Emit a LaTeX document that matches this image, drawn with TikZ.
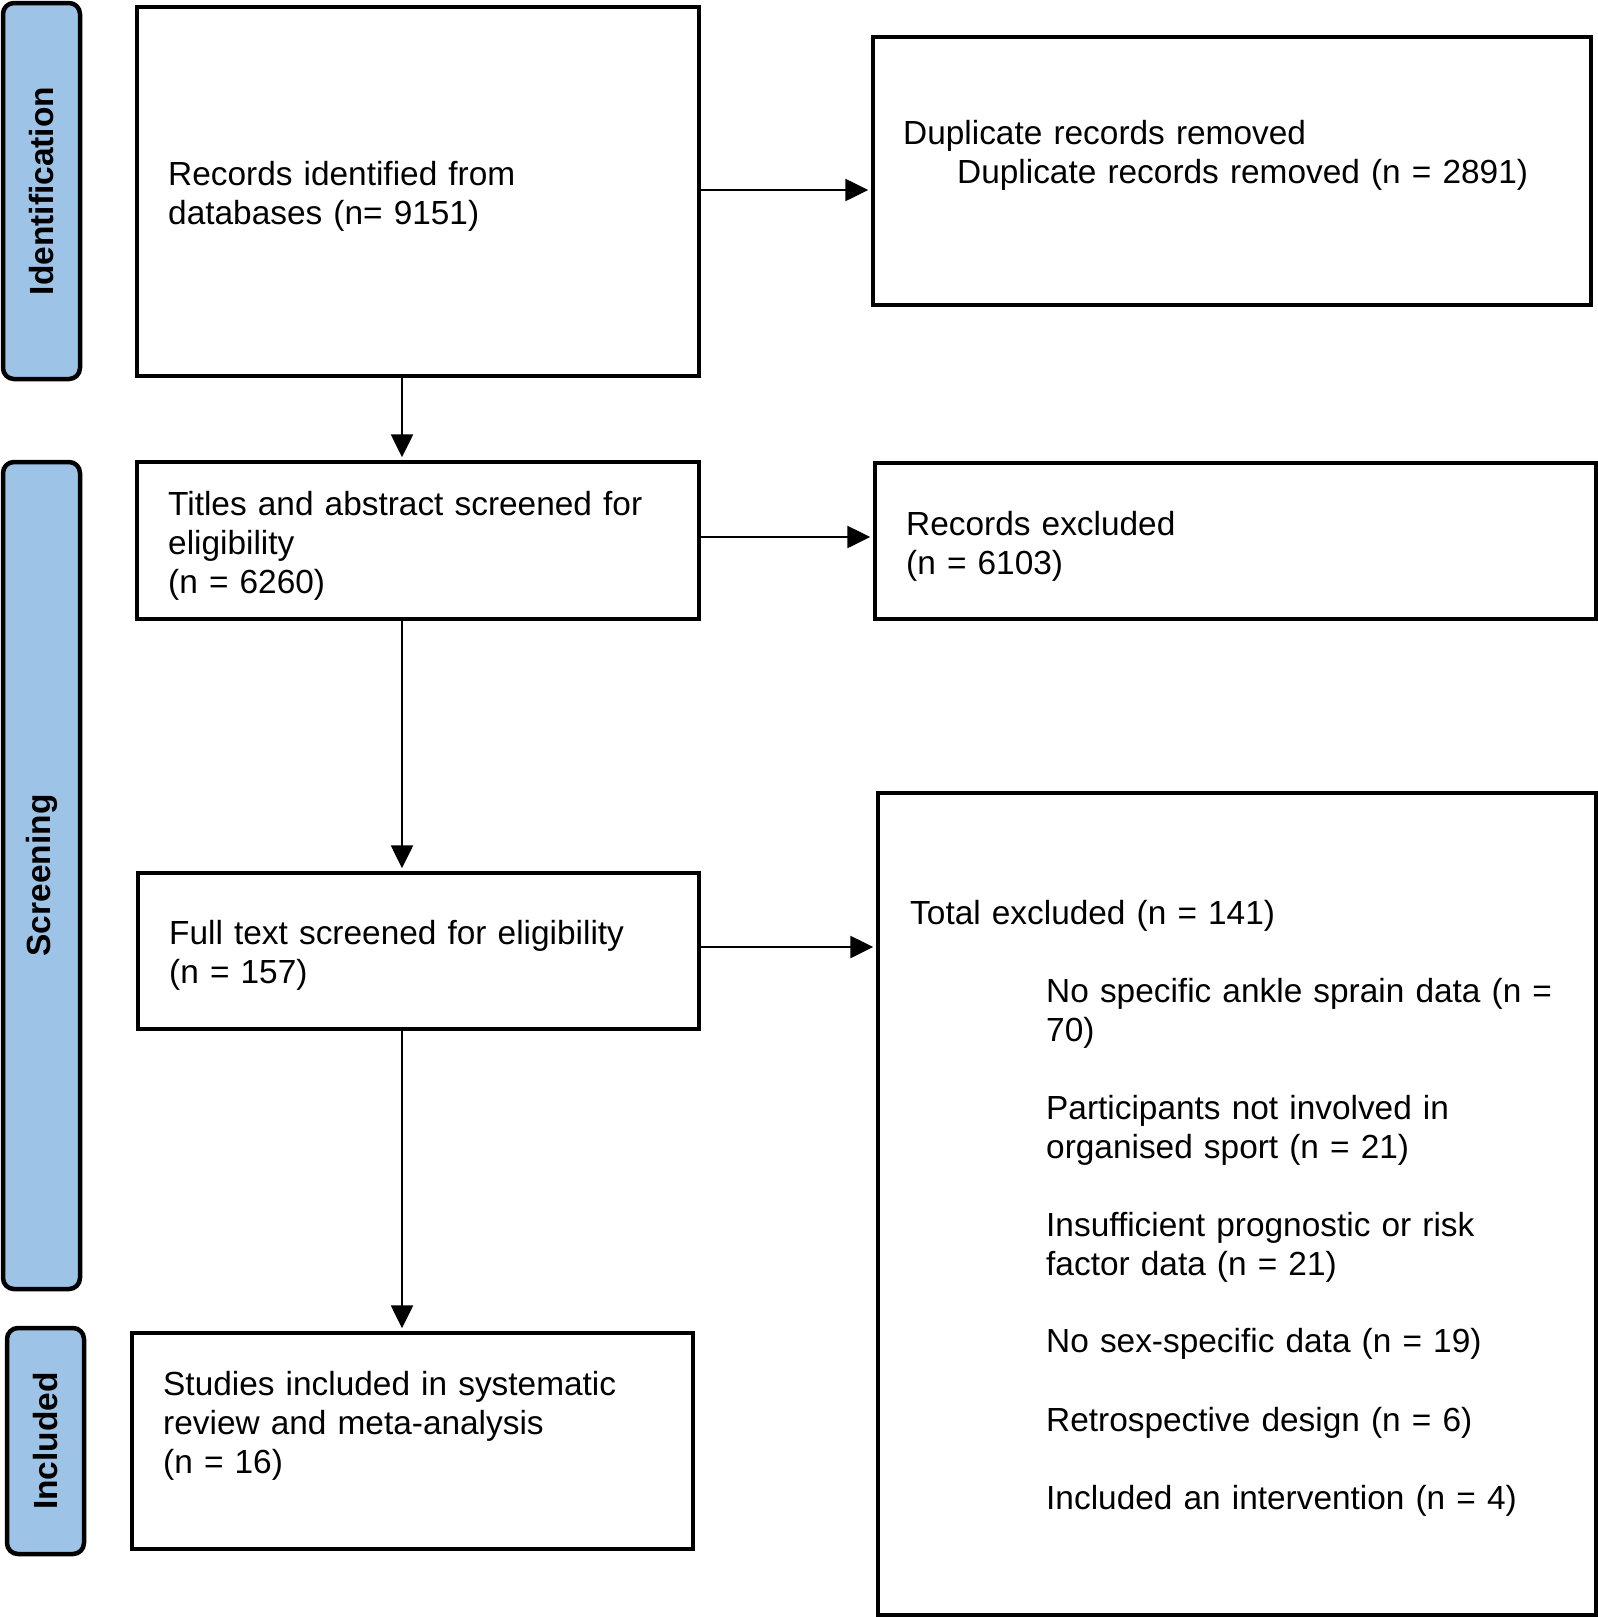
\documentclass[tikz,border=0pt]{standalone}
\usepackage{fontspec}
\setmainfont{Liberation Sans}
\usetikzlibrary{arrows.meta,calc}
\definecolor{pillblue}{RGB}{157,195,230}
\begin{document}
\begin{tikzpicture}[x=1pt,y=-1pt,
  box/.style={draw=black, line width=3.5pt, rectangle, inner sep=0pt, fill=white},
  pill/.style={draw=black, line width=4.5pt, fill=pillblue, rounded corners=11pt, rectangle, inner sep=0pt},
  pilltext/.style={rotate=90, font=\fontsize{33.5}{39}\selectfont\bfseries, inner sep=0pt},
  txt/.style={anchor=base west, inner sep=0pt, align=left, text width=720pt, font=\fontsize{33.4}{39}\selectfont},
  arr/.style={line width=2.6pt, -{Triangle[length=23pt,width=22pt]}, shorten >=3pt}
]
\useasboundingbox (0,0) rectangle (1598,1617);
% pills
\node[pill, minimum width=77pt, minimum height=376pt] (pid) at (41.5,191) {};
\node[pill, minimum width=77pt, minimum height=827pt] (psc) at (41.5,875.5) {};
\node[pill, minimum width=77pt, minimum height=226pt] (pin) at (45.5,1441) {};
\node[pilltext] (pidt) at (pid.center) {Identification};
\node[pilltext] (psct) at (psc.center) {Screening};
\node[pilltext] (pint) at (pin.center) {Included};
% boxes
\node[box, minimum width=562pt, minimum height=369pt] (b1) at (418,191.5) {};
\node[box, minimum width=718pt, minimum height=268pt] (dup) at (1232,171) {};
\node[box, minimum width=562pt, minimum height=157pt] (tit) at (418,540.5) {};
\node[box, minimum width=721pt, minimum height=156pt] (rex) at (1235.5,541) {};
\node[box, minimum width=561pt, minimum height=156pt] (ful) at (418.5,951) {};
\node[box, minimum width=561pt, minimum height=216pt] (stu) at (412.5,1441) {};
\node[box, minimum width=718pt, minimum height=822pt] (tot) at (1237,1204) {};
% texts
\node[txt] (b1t) at (168,185) {Records identified from\\databases (n= 9151)};
\node[txt] (dupt) at (903,144) {Duplicate records removed};
\node[txt] (dupt2) at (957,183) {Duplicate records removed (n = 2891)};
\node[txt] (titt) at (168,515) {Titles and abstract screened for\\eligibility\\(n = 6260)};
\node[txt] (rext) at (906,535) {Records excluded\\(n = 6103)};
\node[txt] (fult) at (169,944) {Full text screened for eligibility\\(n = 157)};
\node[txt] (stut) at (163,1395) {Studies included in systematic\\review and meta-analysis\\(n = 16)};
\node[txt] (tott) at (910,924) {Total excluded (n = 141)};
\node[txt] (i1) at (1046,1002) {No specific ankle sprain data (n =\\70)};
\node[txt] (i2) at (1046,1119) {Participants not involved in\\organised sport (n = 21)};
\node[txt] (i3) at (1046,1236) {Insufficient prognostic or risk\\factor data (n = 21)};
\node[txt] (i4) at (1046,1352) {No sex-specific data (n = 19)};
\node[txt] (i5) at (1046,1431) {Retrospective design (n = 6)};
\node[txt] (i6) at (1046,1509) {Included an intervention (n = 4)};
% connectors
\coordinate (col) at (402,0);
\coordinate (r1) at (0,190);
\coordinate (r2) at (0,537);
\coordinate (r3) at (0,947);
\draw[arr] (b1.east |- r1) -- (dup.west |- r1);
\draw[arr] (tit.east |- r2) -- (rex.west |- r2);
\draw[arr] (ful.east |- r3) -- (tot.west |- r3);
\draw[arr] (b1.south -| col) -- (tit.north -| col);
\draw[arr] (tit.south -| col) -- (ful.north -| col);
\draw[arr] (ful.south -| col) -- (stu.north -| col);
\end{tikzpicture}
\end{document}
